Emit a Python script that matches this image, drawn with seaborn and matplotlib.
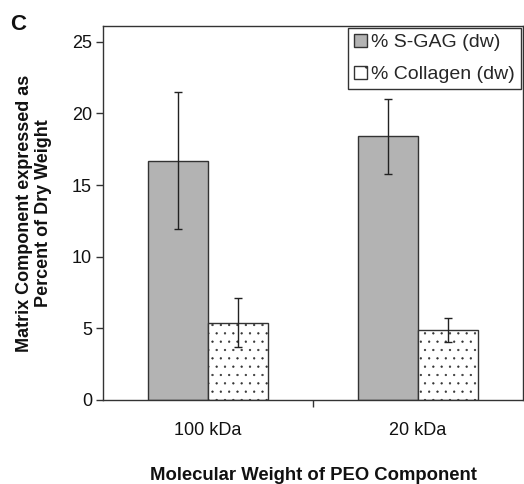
import matplotlib
matplotlib.use("Agg")
import matplotlib.pyplot as plt
import seaborn as sns
import pandas as pd
import numpy as np

categories = ["100 kDa", "20 kDa"]
series = ["% S-GAG (dw)", "% Collagen (dw)"]
sgag_mean = [16.7, 18.4]
sgag_err = [4.8, 2.6]
coll_mean = [5.4, 4.9]
coll_err = [1.7, 0.85]

df = pd.DataFrame({
    "cat": categories * 2,
    "series": [series[0]] * 2 + [series[1]] * 2,
    "val": sgag_mean + coll_mean,
    "err": sgag_err + coll_err,
})

sns.set_theme(style="white")
plt.rcParams['font.family'] = ['Liberation Sans', 'DejaVu Sans']
plt.rcParams['hatch.color'] = '#a8a8a8'
plt.rcParams['hatch.linewidth'] = 0.4

fig = plt.figure(figsize=(5.24, 4.84), dpi=100)
ax = fig.add_axes([103/524, 1 - 400/484, 420/524, 374/484])

sns.barplot(data=df, x="cat", y="val", hue="series", order=categories,
            hue_order=series, palette=["#b3b3b3", "white"], width=0.572,
            edgecolor="#333333", linewidth=1.0, errorbar=None, ax=ax,
            saturation=1)

bar_conts = list(ax.containers)
for i, cont in enumerate(bar_conts):
    sub = df[df.series == series[i]].set_index("cat").loc[categories]
    errs = sub["err"].values
    vals = sub["val"].values
    xs = []
    for p in cont.patches:
        if i == 1:
            p.set_hatch('..')
        xs.append(p.get_x() + p.get_width() / 2)
    ax.errorbar(xs, vals, yerr=errs, fmt='none', ecolor='#222222',
                elinewidth=1.0, capsize=3, capthick=1.0, zorder=5)

ax.set_ylim(0, 26.1)
ax.set_xlim(-0.5, 1.5)
ax.set_yticks([0, 5, 10, 15, 20, 25])
ax.tick_params(axis='y', which='major', left=True, length=5, width=1,
               color='#333333', labelsize=13, pad=3, labelcolor='#111111')
ax.tick_params(axis='x', which='major', bottom=False, labelsize=13, pad=10,
               labelcolor='#111111')
ax.set_xticks([0.5], minor=True)
ax.tick_params(axis='x', which='minor', bottom=True, length=5, width=1,
               color='#333333')

for s in ax.spines.values():
    s.set_visible(True)
    s.set_color('#333333')
    s.set_linewidth(1.0)

ax.set_xlabel("Molecular Weight of PEO Component", fontsize=13.3,
              fontweight='bold', labelpad=20, color='#111111')
ax.set_ylabel("Matrix Component expressed as\nPercent of Dry Weight",
              fontsize=13, fontweight='bold', labelpad=14, color='#111111')

leg = ax.legend(loc='upper right', fontsize=14, frameon=True, fancybox=False,
                edgecolor='#333333', framealpha=1, borderaxespad=0.1,
                handlelength=0.65, handleheight=0.65, handletextpad=0.25,
                borderpad=0.3, labelspacing=0.75, title=None)
leg.get_frame().set_linewidth(1.0)
handles = leg.legend_handles if hasattr(leg, "legend_handles") else leg.legendHandles
handles[1].set_hatch('.')

fig.text(10/524, 1 - 24/484, "C", fontsize=16, fontweight='bold',
         color='#111111', va='center', ha='left')

fig.savefig("out.png", dpi=100)
